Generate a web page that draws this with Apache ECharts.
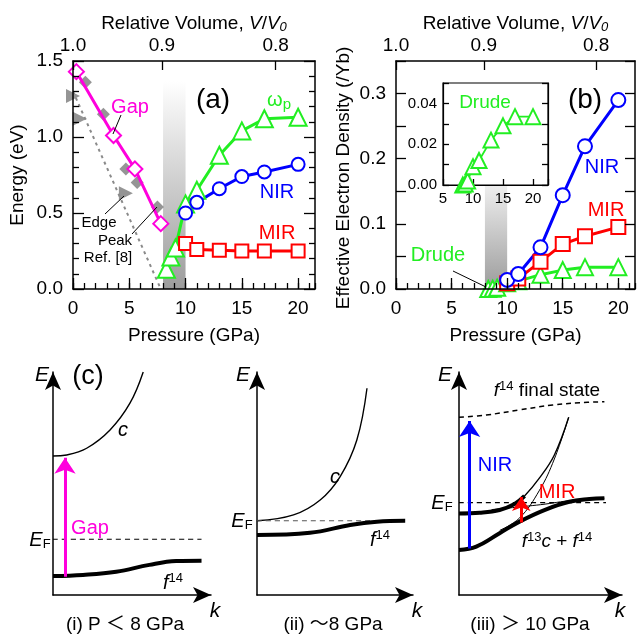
<!DOCTYPE html>
<html>
<head>
<meta charset="utf-8">
<script src="https://cdn.jsdelivr.net/npm/echarts@6/dist/echarts.min.js"></script>
<style>
  html, body { margin: 0; background: #fff; }
  #chart { width: 639px; height: 641px; }
</style>
</head>
<body>
<div id="chart"></div>
<script>
// ---- (a) energies vs pressure ----
const gapP = [0.3, 3.6, 5.5, 7.8];
const gapE = [1.43, 1.01, 0.79, 0.43];
const peakP = [1.1, 2.7, 4.7, 5.7, 7.5];
const peakE = [1.36, 1.15, 0.79, 0.70, 0.54];
const edgeP = [0.0, 0.6, 4.7];
const edgeE = [1.27, 1.12, 0.63];
const edgeFitP = [0.0, 7.8];
const edgeFitE = [1.30, 0.0];
const highP = [8.3, 8.7, 9.1, 10, 11, 13, 15, 17, 20];
const omegaP = [0.13, 0.21, 0.27, 0.56, 0.65, 0.88, 1.04, 1.12, 1.13];
const bandP = [10, 11, 13, 15, 17, 20];
const nirE = [0.50, 0.57, 0.66, 0.74, 0.77, 0.82];
const mirE = [0.30, 0.26, 0.255, 0.25, 0.25, 0.25];

// ---- (b) effective electron density ----
const nirN = [0.014, 0.023, 0.064, 0.144, 0.219, 0.29];
const mirN = [0.009, 0.016, 0.042, 0.069, 0.081, 0.095];
const drudeN = [0, 0.0005, 0.002, 0.009, 0.012, 0.022, 0.029, 0.0335, 0.0335];

// mixed-valence pressure window
const mixedP = [8, 10];

// ---- tick labels ----
const pressureTicks = [0, 5, 10, 15, 20];
const volumeLabels = ["1.0", "0.9", "0.8"];
const volumeAtP = [0, 7.9, 18.0];
const insetTicks = [5, 10, 15, 20];

// ---- (c) schematic bands, k and E in axis units ----
const c1K = [0, 0.087, 0.213, 0.361, 0.487, 0.571];
const c1E = [0.623, 0.628, 0.658, 0.740, 0.860, 1.0];
const f1K = [0, 0.19, 0.40, 0.61, 0.78, 0.94];
const f1E = [0.085, 0.090, 0.104, 0.135, 0.152, 0.154];
const ef1K = [0, 0.94];
const ef1E = [0.25, 0.25];
const gapArrowK = [0.076, 0.076];
const gapArrowE = [0.082, 0.615];

const c2K = [0, 0.234, 0.405, 0.533, 0.640, 0.705];
const c2E = [0.333, 0.359, 0.426, 0.531, 0.695, 0.927];
const f2K = [0, 0.34, 0.597, 0.769, 0.95];
const f2E = [0.269, 0.279, 0.314, 0.329, 0.333];
const ef2K = [0, 0.94];
const ef2E = [0.333, 0.333];

const finalK = [0, 0.167, 0.371, 0.575, 0.739, 0.892];
const finalE = [0.797, 0.807, 0.830, 0.852, 0.862, 0.867];
const lowK = [0, 0.106, 0.249, 0.371, 0.524, 0.677, 0.80, 0.892];
const lowE = [0.202, 0.217, 0.277, 0.329, 0.381, 0.418, 0.430, 0.434];
const upK = [0, 0.127, 0.249, 0.341, 0.402];
const upE = [0.366, 0.369, 0.381, 0.408, 0.444];
const upThinK = [0.341, 0.402, 0.494, 0.585, 0.673];
const upThinE = [0.408, 0.444, 0.525, 0.628, 0.797];
const bareCK = [0.25, 0.371, 0.494, 0.585, 0.673];
const bareCE = [0.29, 0.345, 0.47, 0.61, 0.797];
const bareFK = [0.2, 0.5, 0.7, 0.892];
const bareFE = [0.383, 0.405, 0.425, 0.434];
const ef3K = [0, 0.902];
const ef3E = [0.414, 0.414];
const nirArrowK = [0.065, 0.065];
const nirArrowE = [0.209, 0.78];
const mirArrowK = [0.382, 0.382];
const mirArrowE = [0.325, 0.44];

const FONT = "'Liberation Sans', Arial, 'Noto Sans CJK JP', sans-serif";
const MAGENTA = "#ff00dd";
const GREEN = "#22ee22";
const BLUE = "#0000ff";
const RED = "#ff0000";
const GRAY = "#7a7a7a";

const pairs = (xs, ys) => xs.map((x, i) => [x, ys[i]]);
const line = { show: true, onZero: false, lineStyle: { color: "#000", width: 1.5 } };
const tickLine = { color: "#000", width: 1.3 };
const labelStyle = { color: "#000", fontSize: 19, fontFamily: FONT };
const nameRich = {
    i: { fontStyle: "italic", fontSize: 19, fontFamily: FONT, color: "#000" },
    s: { fontStyle: "italic", fontSize: 13, fontFamily: FONT, color: "#000", verticalAlign: "bottom", padding: [8, 0, 0, 0] },
};

function pressureAxes(grid) {
    return [
        {
            type: "value", gridIndex: grid, position: "bottom", min: 0, max: 21.5, interval: 1, z: 4,
            axisLine: line,
            axisTick: { inside: true, length: 6, lineStyle: tickLine },
            axisLabel: { ...labelStyle, margin: 10, customValues: pressureTicks },
            splitLine: { show: false },
            name: "Pressure (GPa)", nameLocation: "middle", nameGap: 37, nameTextStyle: { ...labelStyle },
        },
        {
            type: "value", gridIndex: grid, position: "bottom", min: 0, max: 21.5, z: 4,
            axisLine: { show: false },
            axisTick: { inside: true, length: 11, customValues: pressureTicks, lineStyle: tickLine },
            axisLabel: { show: false },
            splitLine: { show: false },
        },
        {
            type: "value", gridIndex: grid, position: "top", min: 0, max: 21.5, z: 4,
            axisLine: line,
            axisTick: { inside: true, length: 9, customValues: volumeAtP, lineStyle: tickLine },
            axisLabel: {
                ...labelStyle, margin: 6, customValues: volumeAtP,
                formatter: (v) => volumeLabels[volumeAtP.indexOf(v)],
            },
            splitLine: { show: false },
            name: "Relative Volume, {i|V}/{i|V}{s|0}", nameLocation: "middle", nameGap: 27,
            nameTextStyle: { ...labelStyle, rich: nameRich },
        },
    ];
}

function valueAxis(grid, position, max, interval, tickLen, labelFn, extra) {
    return Object.assign({
        type: "value", gridIndex: grid, position, min: 0, max, interval, z: 4,
        axisLine: line,
        axisTick: { inside: true, length: tickLen, lineStyle: tickLine },
        axisLabel: labelFn ? { ...labelStyle, margin: 10, formatter: labelFn } : { show: false },
        splitLine: { show: false },
    }, extra || {});
}

const onStep = (v, step) => Math.abs(v / step - Math.round(v / step)) < 1e-6;

function arrowAxis(grid, position) {
    return {
        type: "value", gridIndex: grid, position, min: 0, max: 1,
        axisLine: { show: true, onZero: false, symbol: ["none", "arrow"], symbolSize: [12, 18], lineStyle: { color: "#000", width: 1.5 } },
        axisTick: { show: false }, axisLabel: { show: false }, splitLine: { show: false },
    };
}

function openSeries(xi, yi, xs, ys, color, symbol, size, width) {
    return {
        type: "line", xAxisIndex: xi, yAxisIndex: yi, data: pairs(xs, ys),
        symbol, symbolSize: size, showAllSymbol: true, clip: false, z: 3,
        lineStyle: { color, width: width || 3 },
        itemStyle: { color: "#fff", borderColor: color, borderWidth: 2 },
    };
}

function shade(yTop, topColor) {
    return {
        silent: true,
        itemStyle: {
            opacity: 1,
            color: new echarts.graphic.LinearGradient(0, 0, 0, 1, [
                { offset: 0, color: topColor },
                { offset: 1, color: "#9c9c9c" },
            ]),
        },
        data: [[{ xAxis: mixedP[0], yAxis: yTop }, { xAxis: mixedP[1], yAxis: 0 }]],
    };
}

function band(xi, yi, xs, ys, width, dash, color) {
    return {
        type: "line", xAxisIndex: xi, yAxisIndex: yi, data: pairs(xs, ys), smooth: 0.4,
        symbol: "none", lineStyle: { color: color || "#000", width, type: dash || "solid" },
    };
}

function arrow(xi, yi, ks, es, color, width, size) {
    return {
        type: "lines", coordinateSystem: "cartesian2d", xAxisIndex: xi, yAxisIndex: yi,
        symbol: ["none", "arrow"], symbolSize: [0, size], z: 4,
        lineStyle: { color, width, opacity: 1, curveness: 0 },
        data: [{ coords: pairs(ks, es) }],
    };
}

function txt(x, y, text, size, color, extra) {
    return {
        type: "text", x, y, z: 20,
        style: Object.assign({ text, fontSize: size, fontFamily: FONT, fill: color || "#000", align: "center", verticalAlign: "middle" }, extra || {}),
    };
}
function seg(x1, y1, x2, y2) {
    return { type: "line", z: 20, shape: { x1, y1, x2, y2 }, style: { stroke: "#000", lineWidth: 1 } };
}
const italic = { fontStyle: "italic" };
const supRich = (size) => ({
    f: { fontStyle: "italic", fontSize: size, fontFamily: FONT, fill: "#000" },
    c: { fontStyle: "italic", fontSize: size, fontFamily: FONT, fill: "#000" },
    n: { fontSize: size, fontFamily: FONT, fill: "#000" },
    s: { fontSize: 13, fontFamily: FONT, fill: "#000", verticalAlign: "top", padding: [0, 0, 9, 0] },
});
const efRich = {
    e: { fontStyle: "italic", fontSize: 20, fontFamily: FONT, fill: "#000" },
    s: { fontSize: 13, fontFamily: FONT, fill: "#000", verticalAlign: "bottom", padding: [9, 0, 0, 0] },
};

const chart = echarts.init(document.getElementById("chart"));

const yName = (x, y, text) => Object.assign(txt(x, y, text, 19), { rotation: Math.PI / 2 });

const option = {
    animation: false,
    backgroundColor: "#fff",
    grid: [
        { left: 73, top: 61, width: 242, height: 228, outerBoundsMode: "none" },
        { left: 396, top: 61, width: 239, height: 228, outerBoundsMode: "none" },
        { left: 443, top: 83, width: 105, height: 102, outerBoundsMode: "none", show: true, backgroundColor: "#fff", borderColor: "#000", borderWidth: 1.2, z: 3 },
        { left: 53, top: 372, width: 158, height: 223, outerBoundsMode: "none" },
        { left: 257, top: 372, width: 156, height: 223, outerBoundsMode: "none" },
        { left: 459, top: 372, width: 163, height: 223, outerBoundsMode: "none" },
    ],
    xAxis: [
        ...pressureAxes(0),
        ...pressureAxes(1),
        {
            type: "value", gridIndex: 2, position: "bottom", min: 5, max: 22.5, interval: 5, z: 5,
            axisLine: { show: true, onZero: false, lineStyle: { color: "#000", width: 1.2 } },
            axisTick: { inside: true, length: 6, lineStyle: tickLine },
            axisLabel: { color: "#000", fontSize: 15, fontFamily: FONT, margin: 6, customValues: insetTicks },
            splitLine: { show: false },
        },
        arrowAxis(3, "bottom"),
        arrowAxis(4, "bottom"),
        arrowAxis(5, "bottom"),
    ],
    yAxis: [
        valueAxis(0, "left", 1.5, 0.5, 11, (v) => v.toFixed(1), {
            minorTick: { show: true, splitNumber: 5, length: 6, lineStyle: tickLine }, minorSplitLine: { show: false },
        }),
        valueAxis(0, "right", 1.5, 0.5, 11, null, {
            minorTick: { show: true, splitNumber: 5, length: 6, lineStyle: tickLine }, minorSplitLine: { show: false },
        }),
        valueAxis(1, "left", 0.35, 0.05, 10, (v) => (onStep(v, 0.1) ? v.toFixed(1) : "")),
        valueAxis(1, "right", 0.35, 0.05, 10, null),
        valueAxis(2, "left", 0.05, 0.01, 6, null, {
            z: 5,
            axisLine: { show: true, onZero: false, lineStyle: { color: "#000", width: 1.2 } },
            axisLabel: { color: "#000", fontSize: 15, fontFamily: FONT, margin: 6, formatter: (v) => (onStep(v, 0.02) && v < 0.049 ? v.toFixed(2) : "") },
        }),
        valueAxis(2, "right", 0.05, 0.01, 6, null, {
            z: 5, axisLine: { show: true, onZero: false, lineStyle: { color: "#000", width: 1.2 } },
        }),
        arrowAxis(3, "left"),
        arrowAxis(4, "left"),
        arrowAxis(5, "left"),
    ],
    series: [
        // (a)
        {
            type: "line", xAxisIndex: 0, yAxisIndex: 0, data: pairs(edgeFitP, edgeFitE), symbol: "none",
            lineStyle: { color: "#8a8a8a", width: 2, type: [3, 4] },
        },
        {
            type: "scatter", xAxisIndex: 0, yAxisIndex: 0, data: pairs(peakP, peakE), clip: false,
            symbol: "diamond", symbolSize: 13, itemStyle: { color: GRAY },
        },
        {
            type: "scatter", xAxisIndex: 0, yAxisIndex: 0, data: pairs(edgeP, edgeE), clip: false,
            symbol: "triangle", symbolRotate: -90, symbolSize: 14, itemStyle: { color: GRAY },
        },
        openSeries(0, 0, gapP, gapE, MAGENTA, "diamond", 15),
        Object.assign(openSeries(0, 0, highP, omegaP, GREEN, "triangle", 17), { markArea: shade(1.37, "#ffffff") }),
        openSeries(0, 0, bandP, nirE, BLUE, "circle", 13),
        openSeries(0, 0, bandP, mirE, RED, "rect", 13),
        // (b)
        Object.assign(openSeries(3, 2, highP, drudeN, GREEN, "triangle", 16), { markArea: shade(0.159, "#eeeeee") }),
        openSeries(3, 2, bandP, mirN, RED, "rect", 14),
        openSeries(3, 2, bandP, nirN, BLUE, "circle", 14),
        // inset
        Object.assign(openSeries(6, 4, highP, drudeN, GREEN, "triangle", 15, 1.8), { z: 6, markArea: shade(0.0355, "#ffffff") }),
        // (c-i)
        band(7, 6, c1K, c1E, 1.4),
        band(7, 6, f1K, f1E, 4),
        band(7, 6, ef1K, ef1E, 1.2, [5, 4]),
        arrow(7, 6, gapArrowK, gapArrowE, MAGENTA, 3, 16),
        // (c-ii)
        band(8, 7, c2K, c2E, 1.4),
        band(8, 7, ef2K, ef2E, 1.2, [5, 4], "#555"),
        band(8, 7, f2K, f2E, 4),
        // (c-iii)
        band(9, 8, finalK, finalE, 1.5, [5, 4]),
        band(9, 8, ef3K, ef3E, 1.2, [5, 4]),
        band(9, 8, bareCK, bareCE, 1),
        band(9, 8, bareFK, bareFE, 1),
        band(9, 8, upThinK, upThinE, 1.4),
        band(9, 8, upK, upE, 4),
        band(9, 8, lowK, lowE, 4),
        arrow(9, 8, nirArrowK, nirArrowE, BLUE, 3, 16),
        arrow(9, 8, mirArrowK, mirArrowE, RED, 3, 14),
    ],
    graphic: [
        // (a)
        yName(18, 175, "Energy (eV)"),
        txt(213, 100, "(a)", 28),
        txt(130, 107, "Gap", 20, MAGENTA),
        seg(113, 134, 121, 115),
        txt(279, 100, "{w|ω}{p|p}", 20, GREEN, {
            rich: {
                w: { fontSize: 20, fontFamily: FONT, fill: GREEN },
                p: { fontSize: 15, fontFamily: FONT, fill: GREEN, verticalAlign: "bottom", padding: [9, 0, 0, 0] },
            },
        }),
        txt(277, 192, "NIR", 20, BLUE),
        txt(277, 233, "MIR", 20, RED),
        txt(99, 223, "Edge", 15),
        txt(115, 241, "Peak", 15),
        txt(108, 258, "Ref. [8]", 15),
        seg(105, 214, 124, 196),
        seg(132, 234, 157, 207),
        // (b)
        yName(344, 178, "Effective Electron Density (/Yb)"),
        txt(585, 100, "(b)", 28),
        txt(602, 167, "NIR", 20, BLUE),
        txt(606, 210, "MIR", 20, RED),
        txt(438, 255, "Drude", 20, GREEN),
        seg(453, 271, 486, 287),
        txt(485, 103, "Drude", 19, GREEN),
        // (c)
        txt(88, 377, "(c)", 27),
        txt(42, 375, "E", 21, "#000", italic),
        txt(243, 375, "E", 21, "#000", italic),
        txt(445, 375, "E", 21, "#000", italic),
        txt(215, 611, "k", 21, "#000", italic),
        txt(417, 611, "k", 21, "#000", italic),
        txt(620, 611, "k", 21, "#000", italic),
        txt(123, 430, "c", 20, "#000", italic),
        txt(335, 477, "c", 20, "#000", italic),
        txt(173, 583, "{f|f}{s|14}", 20, "#000", { rich: supRich(20) }),
        txt(380, 540, "{f|f}{s|14}", 20, "#000", { rich: supRich(20) }),
        txt(40, 540, "{e|E}{s|F}", 20, "#000", { rich: efRich }),
        txt(242, 521, "{e|E}{s|F}", 20, "#000", { rich: efRich }),
        txt(442, 503, "{e|E}{s|F}", 20, "#000", { rich: efRich }),
        txt(90, 528, "Gap", 20, MAGENTA),
        txt(495, 465, "NIR", 20, BLUE),
        txt(557, 492, "MIR", 20, RED),
        txt(547, 391, "{f|f}{s|14}{n| final state}", 19, "#000", { rich: supRich(19) }),
        txt(557, 542, "{f|f}{s|13}{c|c}{n| + }{f|f}{s|14}", 19, "#000", { rich: supRich(19) }),
        txt(125, 625, "(i) P \uff1c 8 GPa", 19),
        txt(333, 625, "(ii) \uff5e8 GPa", 19),
        txt(530, 625, "(iii) \uff1e 10 GPa", 19),
    ],
};

chart.setOption(option);
window.addEventListener("resize", () => chart.resize());
</script>
</body>
</html>
